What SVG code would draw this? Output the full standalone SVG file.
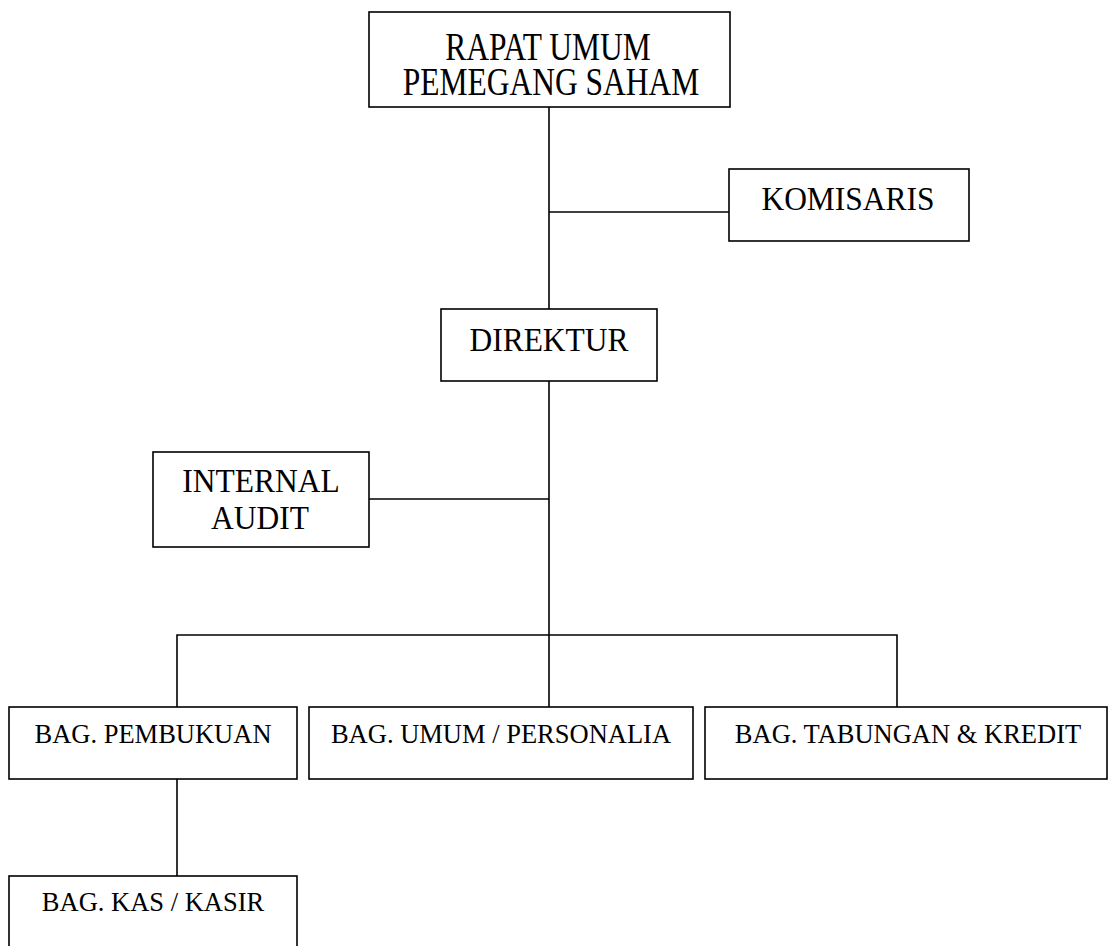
<svg xmlns="http://www.w3.org/2000/svg" width="1109" height="946" viewBox="0 0 1109 946">
  <style>
    .box { fill: #ffffff; stroke: #000000; stroke-width: 1.6; }
    .link { fill: none; stroke: #000000; stroke-width: 1.6; }
    .big { font-family: "Liberation Serif", "Times New Roman", serif; font-size: 31.5px; fill: #000000; text-anchor: middle; }
    .small { font-family: "Liberation Serif", "Times New Roman", serif; font-size: 26.5px; fill: #000000; text-anchor: middle; }
  </style>
  <rect width="1109" height="946" fill="#ffffff"/>

  <!-- reporting lines -->
  <g id="connectors">
    <path class="link" d="M549 107 V309"/>
    <path class="link" d="M549 212 H729"/>
    <path class="link" d="M549 381 V707"/>
    <path class="link" d="M369 499 H549"/>
    <path class="link" d="M177 707 V635 H897 V707"/>
    <path class="link" d="M177 779 V876"/>
  </g>

  <g id="rups">
    <rect class="box" x="369" y="12" width="361" height="95"/>
    <text class="big" transform="translate(548 60) scale(1 1.28)">RAPAT UMUM</text>
    <text class="big" transform="translate(551 95) scale(1 1.28)">PEMEGANG SAHAM</text>
  </g>

  <g id="komisaris">
    <rect class="box" x="729" y="169" width="240" height="72"/>
    <text class="big" transform="translate(848 210) scale(1 1.05)">KOMISARIS</text>
  </g>

  <g id="direktur">
    <rect class="box" x="441" y="309" width="216" height="72"/>
    <text class="big" transform="translate(549 351) scale(1 1.05)">DIREKTUR</text>
  </g>

  <g id="internal-audit">
    <rect class="box" x="153" y="452" width="216" height="95"/>
    <text class="big" transform="translate(261 492) scale(1 1.05)">INTERNAL</text>
    <text class="big" transform="translate(260 529) scale(1 1.05)">AUDIT</text>
  </g>

  <g id="bag-pembukuan">
    <rect class="box" x="9" y="707" width="288" height="72"/>
    <text class="small" x="153" y="743">BAG. PEMBUKUAN</text>
  </g>

  <g id="bag-umum">
    <rect class="box" x="309" y="707" width="384" height="72"/>
    <text class="small" x="501" y="743">BAG. UMUM / PERSONALIA</text>
  </g>

  <g id="bag-tabungan">
    <rect class="box" x="705" y="707" width="402" height="72"/>
    <text class="small" x="908" y="743">BAG. TABUNGAN &amp; KREDIT</text>
  </g>

  <g id="bag-kas">
    <rect class="box" x="9" y="876" width="288" height="80"/>
    <text class="small" x="153" y="911">BAG. KAS / KASIR</text>
  </g>
</svg>
